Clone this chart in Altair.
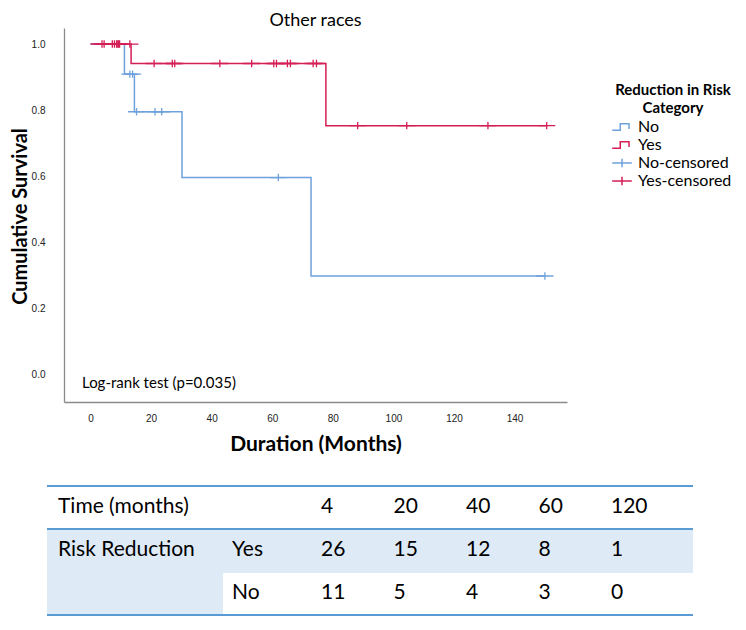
import altair as alt
import pandas as pd

# ---------------- data ----------------
groups = ["No", "Yes"]
no_times = [0, 11.2, 14.5, 30.2, 72.8, 150.0]
no_surv = [1.0, 0.909, 0.795, 0.596, 0.298, 0.298]
yes_times = [0, 13.4, 77.7, 150.6]
yes_surv = [1.0, 0.941, 0.753, 0.753]
no_censor_times = [13.0, 13.9, 15.2, 21.3, 23.5, 62.0, 150.0]
yes_censor_times = [3.8, 4.5, 7.2, 7.9, 8.6, 9.0, 9.3, 9.6, 13.0, 21.0, 27.0, 27.8,
                    42.7, 53.2, 60.5, 61.4, 65.0, 66.0, 73.5, 74.6, 88.2, 104.4,
                    131.2, 150.6]

legend_keys = ["No", "Yes", "No-censored", "Yes-censored"]
legend_colors = ["#6fa1dc", "#d41f55", "#6fa1dc", "#d41f55"]

x_ticks = [0, 20, 40, 60, 80, 100, 120, 140]
y_ticks = [0.0, 0.2, 0.4, 0.6, 0.8, 1.0]

table_rows = ["Time", "Yes", "No"]
table_times = ["4", "20", "40", "60", "120"]
yes_at_risk = [26, 15, 12, 8, 1]
no_at_risk = [11, 5, 4, 3, 0]
row_headers = [("Time", "Time (months)"), ("Yes", "Risk Reduction")]
group_labels = [("Yes", "Yes"), ("No", "No")]
logrank_text = "Log-rank test (p=0.035)"


def level(times, surv, t):
    v = surv[0]
    for ti, si in zip(times, surv):
        if ti <= t:
            v = si
    return v


line_rows = []
for key, ts, ss in [("No", no_times, no_surv), ("Yes", yes_times, yes_surv)]:
    for t, s in zip(ts, ss):
        line_rows.append({"t": t, "s": s, "key": key})
lines_df = pd.DataFrame(line_rows)

cens_rows = []
for t in no_censor_times:
    cens_rows.append({"t": t, "s": level(no_times, no_surv, t), "key": "No-censored"})
for t in yes_censor_times:
    cens_rows.append({"t": t, "s": level(yes_times, yes_surv, t), "key": "Yes-censored"})
cens_df = pd.DataFrame(cens_rows)

tab_rows = []
for c in table_times:
    tab_rows.append({"row": "Time", "col": c, "label": c})
for c, v in zip(table_times, yes_at_risk):
    tab_rows.append({"row": "Yes", "col": c, "label": str(v)})
for c, v in zip(table_times, no_at_risk):
    tab_rows.append({"row": "No", "col": c, "label": str(v)})
tab_df = pd.DataFrame(tab_rows)
head_df = pd.DataFrame([{"row": r, "label": l} for r, l in row_headers])
grp_df = pd.DataFrame([{"row": r, "label": l} for r, l in group_labels])

# ---------------- scales ----------------
STEP = "M-1.4,0.45L-0.25,0.45L-0.25,-0.45L1.0,-0.45L1.0,0.3"
PLUS = "M-1.4,0L1.4,0M0,-0.6L0,0.6"
xscale = alt.Scale(domain=[-8.75, 157.3], nice=False, zero=False)
yscale = alt.Scale(domain=[-0.0833, 1.0485], nice=False, zero=False)
cscale = alt.Scale(domain=legend_keys, range=legend_colors)
sscale = alt.Scale(domain=legend_keys, range=[STEP, STEP, PLUS, PLUS])

legend = alt.Legend(
    title=["Reduction in Risk", "Category"], orient="none", legendX=550, legendY=55,
    titleFont="Lato", titleFontSize=15, titleFontWeight="bold", titleColor="black",
    titleAlign="center", titleAnchor="middle", titleLineHeight=18, titlePadding=3,
    labelFont="Lato", labelFontSize=16, labelColor="black", labelOffset=8,
    symbolSize=196, symbolStrokeWidth=1.5, symbolFillColor="transparent",
    rowPadding=2,
)

xaxis = alt.Axis(values=x_ticks, title="Duration (Months)", ticks=False, tickSize=0,
                 grid=False, labelFont="Liberation Sans", labelFontSize=10,
                 labelColor="#222", labelPadding=11, domainColor="#8a8a8a",
                 domainWidth=1.3, titleFont="Lato", titleFontSize=21,
                 titleFontWeight="bold", titleColor="black", titlePadding=10,
                 orient="bottom")
yaxis = alt.Axis(values=y_ticks, format=".1f", title="Cumulative Survival", ticks=False,
                 tickSize=0, grid=False, labelFont="Liberation Sans", labelFontSize=10,
                 labelColor="#222", labelPadding=19, domainColor="#8a8a8a",
                 domainWidth=1.3, titleFont="Lato", titleFontSize=20,
                 titleFontWeight="bold", titleColor="black",
                 titleX=-44, titleY=188, titleAngle=270, titleAlign="center",
                 titleBaseline="middle", orient="left")

lines = alt.Chart(lines_df).mark_line(interpolate="step-after", strokeWidth=1.5).encode(
    x=alt.X("t:Q", scale=xscale, axis=xaxis),
    y=alt.Y("s:Q", scale=yscale, axis=yaxis),
    color=alt.Color("key:N", scale=cscale, legend=legend),
)
cens = alt.Chart(cens_df).mark_point(filled=False, size=150, strokeWidth=1.3, opacity=1).encode(
    x=alt.X("t:Q", scale=xscale, axis=None),
    y=alt.Y("s:Q", scale=yscale, axis=None),
    color=alt.Color("key:N", scale=cscale, legend=legend),
    shape=alt.Shape("key:N", scale=sscale, legend=legend),
)
logrank = alt.Chart(alt.Data(values=[{"label": logrank_text}])).mark_text(
    align="left", baseline="middle", font="Lato", fontSize=15, color="black"
).encode(x=alt.value(18), y=alt.value(355), text="label:N")

# white strips drawn last, masking the top/right frame of the plot area
mask_top = alt.Chart(alt.Data(values=[{"a": 1}])).mark_rule(color="white", strokeWidth=4).encode(
    x=alt.value(1.5), x2=alt.value(506), y=alt.value(0))
mask_right = alt.Chart(alt.Data(values=[{"a": 1}])).mark_rule(color="white", strokeWidth=4).encode(
    x=alt.value(503), y=alt.value(0), y2=alt.value(373))

# ---------------- table ----------------
row_y = alt.Y("row:N", scale=alt.Scale(type="point", domain=table_rows, range=[479, 565], padding=0), axis=None)
one = alt.Data(values=[{"a": 1}])
BLUE_FILL = "#deeaf6"
LINE = "#5b9bd5"
fill_yes = alt.Chart(one).mark_rect(color=BLUE_FILL).encode(
    x=alt.value(-17), x2=alt.value(629), y=alt.value(501), y2=alt.value(545))
fill_head = alt.Chart(one).mark_rect(color=BLUE_FILL).encode(
    x=alt.value(-17), x2=alt.value(159), y=alt.value(501), y2=alt.value(587))
rules = [alt.Chart(one).mark_rule(color=LINE, strokeWidth=2).encode(
    x=alt.value(-17), x2=alt.value(629), y=alt.value(yv)) for yv in (458, 501, 587)]

txt = dict(align="left", baseline="middle", font="Lato", fontSize=21, color="black")
tab_text = alt.Chart(tab_df).mark_text(**txt).encode(
    x=alt.X("col:N", scale=alt.Scale(type="point", domain=table_times, range=[257, 547], padding=0), axis=None),
    y=row_y, text="label:N")
head_text = alt.Chart(head_df).mark_text(**txt).encode(x=alt.value(-6), y=row_y, text="label:N")
grp_text = alt.Chart(grp_df).mark_text(**txt).encode(x=alt.value(168), y=row_y, text="label:N")

chart = alt.layer(lines, cens, logrank, fill_yes, fill_head, *rules,
                  tab_text, head_text, grp_text, mask_top, mask_right).resolve_scale(
    x="independent", y="independent"
).properties(
    width=503, height=374, autosize="none",
    padding={"left": 56, "top": 20, "right": 171, "bottom": 220},
    view=alt.ViewBackground(stroke="transparent", strokeWidth=0),
    title=alt.Title("Other races", font="Lato", fontSize=18, fontWeight="normal",
                    color="black", anchor="middle", offset=-4),
).configure(
    background="white", style={"cell": {"stroke": "transparent", "strokeWidth": 0}}
).configure_view(strokeWidth=0, stroke="transparent", strokeOpacity=0)

chart.save("out.html", embed_options={"renderer": "svg", "actions": False})
